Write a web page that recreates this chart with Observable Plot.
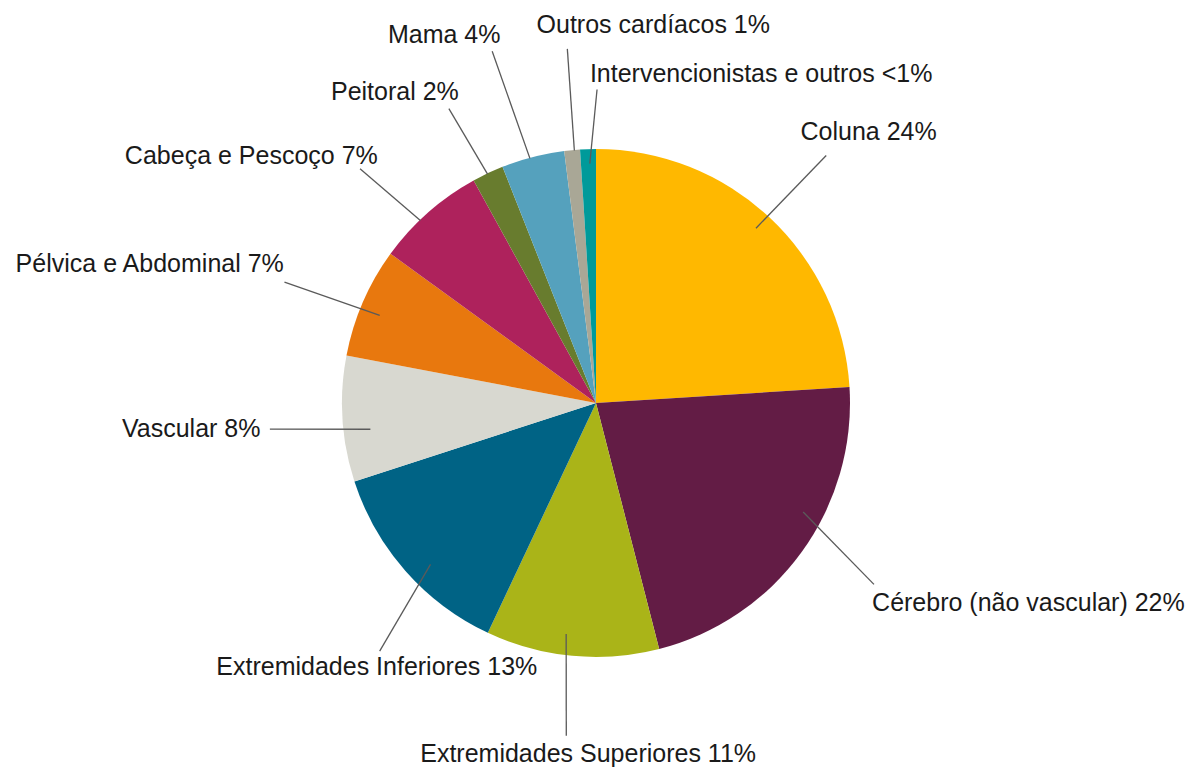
<!DOCTYPE html>
<html>
<head>
<meta charset="utf-8">
<script src="https://cdn.jsdelivr.net/npm/d3@7"></script>
<script src="https://cdn.jsdelivr.net/npm/@observablehq/plot@0.6"></script>
<style>
  html, body { margin: 0; padding: 0; background: #ffffff; }
  #chart svg { display: block; }
</style>
</head>
<body>
<div id="chart"></div>
<script>
// ---- data ----
const categories = [
  "Coluna", "Cérebro (não vascular)", "Extremidades Superiores", "Extremidades Inferiores",
  "Vascular", "Pélvica e Abdominal", "Cabeça e Pescoço", "Peitoral", "Mama",
  "Outros cardíacos", "Intervencionistas e outros"
];
const shares = [24, 22, 11, 13, 8, 7, 7, 2, 4, 1, 1];
const shareLabels = ["24%", "22%", "11%", "13%", "8%", "7%", "7%", "2%", "4%", "1%", "<1%"];
const sliceColors = [
  "#FFB800", "#631C45", "#AAB418", "#006385", "#D8D8D0", "#E8780E",
  "#AE225C", "#687C2E", "#55A1BD", "#A9A796", "#009A9A"
];

// ---- label layout (pie-radius units; angles clockwise from 12 o'clock) ----
const leaderInnerAngle  = [42.3, 117.7, 187.5, 225.9, 263.5, 292.1, 316.1, 334.6, 344.8, 355.0, 358.4];
const leaderInnerRadius = [0.933, 0.919, 0.915, 0.910, 0.896, 0.921, 1.0, 1.0, 1.0, 1.0, 0.945];
const leaderOuterAngle  = [42.8, 123.1, 185.2, 221.2, 265.5, 291.25, 314.8, 333.4, 343.5, 355.3, 0.1];
const leaderOuterRadius = [1.331, 1.304, 1.313, 1.296, 1.290, 1.318, 1.312, 1.298, 1.446, 1.401, 1.236];
const labelX = [0.803, 1.085, -0.033, -0.865, -1.323, -1.231, -0.861, -0.542, -0.378, -0.236, -0.026];
const labelY = [1.039, -0.815, -1.412, -1.068, -0.133, 0.517, 0.944, 1.193, 1.421, 1.457, 1.265];
const labelAnchor = ["start", "start", "middle", "middle", "end", "end", "end", "end", "end", "start", "start"];

const rad = (deg) => deg * Math.PI / 180;
const rows = categories.map((name, i) => ({
  name,
  share: shares[i],
  label: `${name} ${shareLabels[i]}`,
  x1: leaderInnerRadius[i] * Math.sin(rad(leaderInnerAngle[i])),
  y1: leaderInnerRadius[i] * Math.cos(rad(leaderInnerAngle[i])),
  x2: leaderOuterRadius[i] * Math.sin(rad(leaderOuterAngle[i])),
  y2: leaderOuterRadius[i] * Math.cos(rad(leaderOuterAngle[i])),
  lx: labelX[i],
  ly: labelY[i],
  anchor: labelAnchor[i]
}));

const arcs = d3.pie().value(d => d.share).sort(null)(rows);

function pieMark(index, scales) {
  const cx = scales.x(0), cy = scales.y(0);
  const r = scales.x(1) - scales.x(0);
  const arc = d3.arc().innerRadius(0).outerRadius(r);
  const g = d3.create("svg:g").attr("transform", `translate(${cx},${cy})`);
  g.selectAll("path")
    .data(arcs)
    .join("path")
    .attr("d", arc)
    .attr("fill", d => scales.color(d.data.name));
  return g.node();
}

const textStyle = {
  x: "lx", y: "ly", text: "label",
  lineAnchor: "bottom", fontSize: 25, fill: "#1a1a1a"
};

const chart = Plot.plot({
  width: 1199,
  height: 769,
  style: { fontFamily: "'Liberation Sans', Arial, Helvetica, sans-serif", background: "#ffffff" },
  x: { type: "linear", domain: [-1, 1], range: [342, 850], axis: null },
  y: { type: "linear", domain: [-1, 1], range: [657, 149], axis: null },
  color: { type: "ordinal", domain: categories, range: sliceColors, legend: false },
  marks: [
    Plot.dot(rows, { x: 0, y: 0, fill: "name", r: 0 }),
    pieMark,
    Plot.link(rows, { x1: "x1", y1: "y1", x2: "x2", y2: "y2", stroke: "#5a5a5a", strokeWidth: 1.3 }),
    Plot.text(rows.filter(d => d.anchor === "start"), { ...textStyle, textAnchor: "start" }),
    Plot.text(rows.filter(d => d.anchor === "middle"), { ...textStyle, textAnchor: "middle" }),
    Plot.text(rows.filter(d => d.anchor === "end"), { ...textStyle, textAnchor: "end" })
  ]
});

document.getElementById("chart").appendChild(chart);
</script>
</body>
</html>
